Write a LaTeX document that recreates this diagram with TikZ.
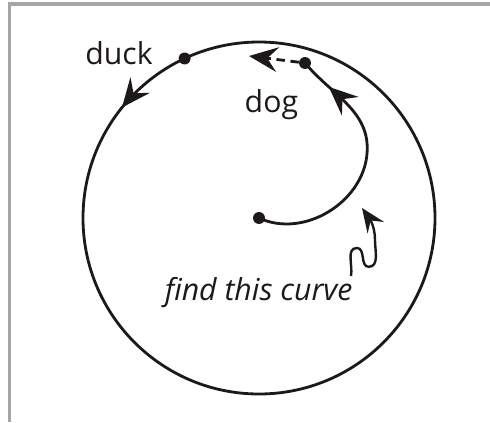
\documentclass[tikz,border=0pt]{standalone}
\usepackage{fontspec}
\setmainfont{Open Sans}
\usetikzlibrary{arrows.meta, decorations.markings}
\usepackage{xcolor}
\definecolor{frame}{RGB}{165,165,165}
\definecolor{ink}{RGB}{30,25,25}

\begin{document}
\begin{tikzpicture}[
  line/.style={line width=2pt, ink},
  dot/.style={circle, fill=ink, inner sep=0pt, minimum size=8.5pt},
  lbl/.style={font=\fontsize{21.5}{25}\selectfont, text=ink, anchor=base, inner sep=0pt},
  headtip/.style={-{Stealth[length=0.72cm, width=0.62cm, inset=0.26cm]}},
  midarr/.style={postaction={decorate}, decoration={markings,
    mark=at position #1 with {\arrow{Stealth[length=0.72cm, width=0.62cm, inset=0.26cm]}}}}
]
\useasboundingbox (-6.475,-5.1) rectangle (5.775,5.45);
\draw[frame, line width=2.4pt] (-6.24,-5.1) -- (-6.24,5.35) -- (5.775,5.35);

% the big circle and its points
\draw[line, midarr=0.392] (0,0) circle (4.4);
\node[dot] (duck)  at (115:4.4) {};
\node[dot] (dog)   at (1.15,3.875) {};
\node[dot] (start) at (0,0) {};
\coordinate (ahead) at (-0.25,4.05);
\coordinate (wig)   at (2.3,-1.45);
\coordinate (aim)   at (2.575,0.25);

% labels
\node[lbl] (ducklbl)  at (-3.5,3.85) {duck};
\node[lbl] (doglbl)   at (0.31,2.65) {dog};
\node[lbl, font=\fontsize{21.5}{25}\selectfont\itshape] (curvelbl) at (-0.01,-2.05) {find this curve};

% the dog's path
\draw[line, midarr=0.87] (start.center) to[out=-25, in=-95] (2.7,1.6) to[out=85, in=-50] (dog.center);
\draw[line, dashed, dash pattern=on 6pt off 4pt, headtip] (dog) -- (ahead);

% pointer
\draw[line, line width=1.7pt, -{Stealth[length=0.6cm, width=0.5cm, inset=0.22cm]}] (wig)
  to[out=80, in=180] (2.45,-0.75) to[out=0, in=180] (2.74,-1.22)
  to[out=0, in=-90] (2.9,-0.55) to[out=90, in=-55] (aim);
\end{tikzpicture}
\end{document}
